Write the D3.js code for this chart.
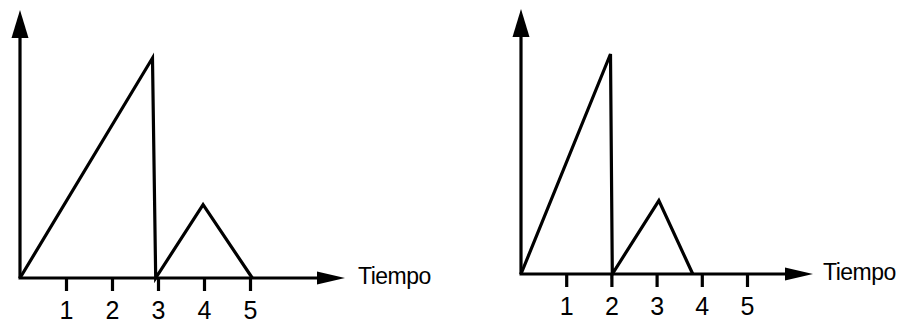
<!DOCTYPE html>
<html>
<head>
<meta charset="utf-8">
<script src="https://cdn.jsdelivr.net/npm/d3@7"></script>
<style>
  html, body { margin: 0; padding: 0; background: #fff; }
  svg { display: block; }
  text { font-family: "Liberation Sans", Arial, Helvetica, sans-serif; fill: #000; }
</style>
</head>
<body>
<svg id="chart" width="906" height="324"></svg>
<script>
// ---- data ----
const tickValues = [1, 2, 3, 4, 5];
const tickLabels = ["1", "2", "3", "4", "5"];
const axisLabel = "Tiempo";

const leftTimes  = [0, 2.88, 2.95, 3.98, 5.05];
const leftValues = [0, 3, 0, 1, 0];

const rightTimes  = [0, 1.98, 2.02, 3.05, 3.8];
const rightValues = [0, 3, 0, 1, 0];

// ---- layout ----
const panels = [
  { times: leftTimes,  values: leftValues,  x0: 20,  y0: 278, unit: 46,   tipX: 345, tipY: 10, labelX: 358, labelY: 284 },
  { times: rightTimes, values: rightValues, x0: 521, y0: 274, unit: 45.2, tipX: 813, tipY: 9,  labelX: 823, labelY: 280 }
];

const svg = d3.select("#chart");
const stroke = "#000";
const lw = 3.2;

panels.forEach(p => {
  const x = d3.scaleLinear().domain([0, 5]).range([p.x0, p.x0 + 5 * p.unit]);
  const y = d3.scaleLinear().domain([0, 3]).range([p.y0, p.y0 - 220]);
  const g = svg.append("g");

  // y axis line + arrow
  g.append("line")
    .attr("x1", x(0)).attr("y1", y(0))
    .attr("x2", x(0)).attr("y2", p.tipY + 20)
    .attr("stroke", stroke).attr("stroke-width", lw);
  g.append("path")
    .attr("d", `M${x(0)},${p.tipY} L${x(0) + 8.5},${p.tipY + 28} L${x(0) - 8.5},${p.tipY + 28} Z`)
    .attr("fill", stroke);

  // x axis with ticks
  const axis = d3.axisBottom(x)
    .tickValues(tickValues)
    .tickFormat((d, i) => tickLabels[i])
    .tickSize(13)
    .tickPadding(10);
  const ax = g.append("g")
    .attr("transform", `translate(0,${p.y0})`)
    .call(axis);
  ax.select(".domain").remove();
  ax.selectAll(".tick line").attr("stroke", stroke).attr("stroke-width", lw);
  ax.selectAll(".tick text")
    .style("font-family", "'Liberation Sans', Arial, sans-serif")
    .attr("font-size", 25)
    .attr("fill", "#000");

  g.append("line")
    .attr("x1", x(0) - 1.5).attr("y1", y(0))
    .attr("x2", p.tipX - 20).attr("y2", y(0))
    .attr("stroke", stroke).attr("stroke-width", lw);
  g.append("path")
    .attr("d", `M${p.tipX},${y(0)} L${p.tipX - 28},${y(0) - 6.5} L${p.tipX - 28},${y(0) + 6.5} Z`)
    .attr("fill", stroke);

  g.append("text")
    .attr("x", p.labelX).attr("y", p.labelY)
    .attr("font-size", 23)
    .attr("letter-spacing", -0.5)
    .text(axisLabel);

  // data line
  const line = d3.line()
    .x((d, i) => x(p.times[i]))
    .y((d, i) => y(p.values[i]));
  g.append("path")
    .datum(p.values)
    .attr("d", line)
    .attr("fill", "none")
    .attr("stroke", stroke)
    .attr("stroke-width", lw)
    .attr("stroke-linejoin", "miter");
});
</script>
</body>
</html>
